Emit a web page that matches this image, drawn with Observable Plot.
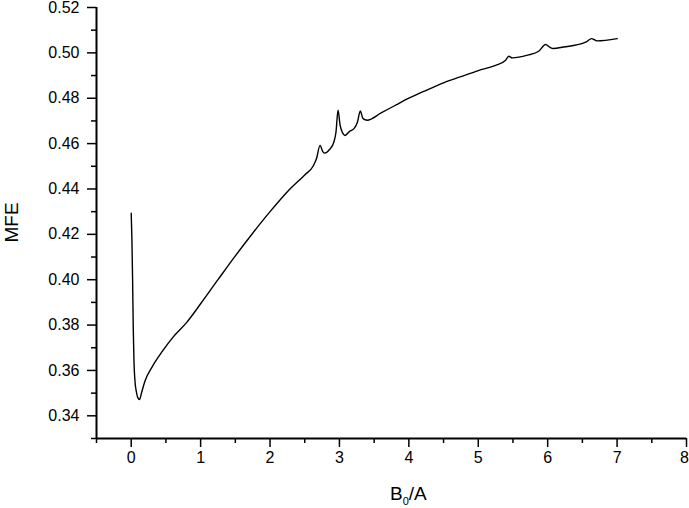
<!DOCTYPE html>
<html><head><meta charset="utf-8">
<script src="https://cdn.jsdelivr.net/npm/d3@7"></script>
<script src="https://cdn.jsdelivr.net/npm/@observablehq/plot@0.6"></script>
<style>body{margin:0;background:#fff;} svg{display:block}</style>
</head><body><div id="chart"></div>
<script>
const bValues = [0, 0.01, 0.02, 0.03, 0.04, 0.055, 0.075, 0.095, 0.12, 0.15, 0.2, 0.3, 0.45, 0.6, 0.8, 1.0, 1.25, 1.5, 1.75, 2.0, 2.25, 2.5, 2.62, 2.67, 2.72, 2.76, 2.79, 2.86, 2.92, 2.95, 2.98, 3.01, 3.04, 3.08, 3.15, 3.21, 3.26, 3.30, 3.34, 3.40, 3.6, 3.8, 4.0, 4.25, 4.5, 4.75, 5.0, 5.25, 5.39, 5.44, 5.49, 5.71, 5.87, 5.97, 6.03, 6.08, 6.23, 6.52, 6.57, 6.63, 6.71, 7.0];
const mfeValues = [0.4293, 0.418, 0.400, 0.378, 0.364, 0.355, 0.3505, 0.348, 0.3472, 0.3503, 0.3555, 0.3615, 0.3685, 0.3746, 0.3812, 0.3894, 0.4000, 0.4105, 0.4205, 0.4300, 0.4388, 0.4462, 0.4500, 0.4534, 0.4592, 0.4565, 0.4558, 0.4575, 0.4607, 0.465, 0.4747, 0.468, 0.4651, 0.4636, 0.4655, 0.4666, 0.4695, 0.4744, 0.471, 0.4703, 0.4735, 0.4768, 0.4800, 0.4835, 0.4868, 0.4895, 0.4922, 0.4945, 0.4966, 0.4985, 0.4978, 0.499, 0.5007, 0.5037, 0.5025, 0.5019, 0.5026, 0.5044, 0.5051, 0.5063, 0.5053, 0.5063];
const xMajorTicks = [0, 1, 2, 3, 4, 5, 6, 7, 8];
const xMinorTicks = [-0.5, 0.5, 1.5, 2.5, 3.5, 4.5, 5.5, 6.5, 7.5];
const yMajorTicks = [0.34, 0.36, 0.38, 0.40, 0.42, 0.44, 0.46, 0.48, 0.50, 0.52];
const yMinorTicks = [0.33, 0.35, 0.37, 0.39, 0.41, 0.43, 0.45, 0.47, 0.49, 0.51];
const xLabelMain = "B", xLabelSub = "0", xLabelRest = "/A";
const yLabel = "MFE";

const data = bValues.map((b, i) => ({b, mfe: mfeValues[i]}));
const font = "'Liberation Sans', Arial, sans-serif";
const plot = Plot.plot({
  width: 689, height: 508,
  marginTop: 7, marginBottom: 70, marginLeft: 96, marginRight: 3,
  style: {fontFamily: font, fontSize: "16px", background: "#fff", color: "#000", overflow: "visible"},
  x: {domain: [-0.5, 8]},
  y: {domain: [0.33, 0.52]},
  marks: [
    Plot.axisX(xMinorTicks, {tickSize: 5, text: null, label: null, strokeWidth: 1.5}),
    Plot.axisX(xMajorTicks, {tickSize: 9, tickPadding: 4, label: null, fontSize: 16, strokeWidth: 1.5, tickFormat: d => String(d)}),
    Plot.axisY(yMinorTicks, {tickSize: 5, text: null, label: null, strokeWidth: 1.5}),
    Plot.axisY(yMajorTicks, {tickSize: 9, tickPadding: 8, label: null, fontSize: 16, strokeWidth: 1.5, tickFormat: d => d.toFixed(2)}),
    Plot.ruleX([-0.5], {strokeWidth: 2}),
    Plot.ruleY([0.33], {strokeWidth: 2}),
    Plot.line(data, {x: "b", y: "mfe", curve: "monotone-x", strokeWidth: 1.4, stroke: "#000"})
  ]
});
document.getElementById("chart").appendChild(plot);
const svg = d3.select(plot);
svg.selectAll("g[aria-label='x-axis tick label'] text, g[aria-label='y-axis tick label'] text").attr("font-size", 16);
// keep the last x tick label ("8") inside the picture
const xTickTexts = svg.selectAll("g[aria-label='x-axis tick label'] text").nodes();
if (xTickTexts.length) d3.select(xTickTexts[xTickTexts.length - 1]).attr("dx", -2);
const xs = plot.scale("x"), ys = plot.scale("y");
const yMid = (ys.range[0] + ys.range[1]) / 2;
const xl = svg.append("text")
  .attr("x", xs.apply(4)).attr("y", 500)
  .attr("text-anchor", "middle")
  .attr("font-family", font).attr("font-size", 19).attr("fill", "#000");
xl.append("tspan").text(xLabelMain);
xl.append("tspan").attr("font-size", 11).attr("dy", 5).text(xLabelSub);
xl.append("tspan").attr("dy", -5).text(xLabelRest);
svg.append("text")
  .attr("transform", `translate(18,${yMid}) rotate(-90)`)
  .attr("text-anchor", "middle")
  .attr("font-family", font).attr("font-size", 19).attr("fill", "#000")
  .text(yLabel);
</script>
</body></html>
